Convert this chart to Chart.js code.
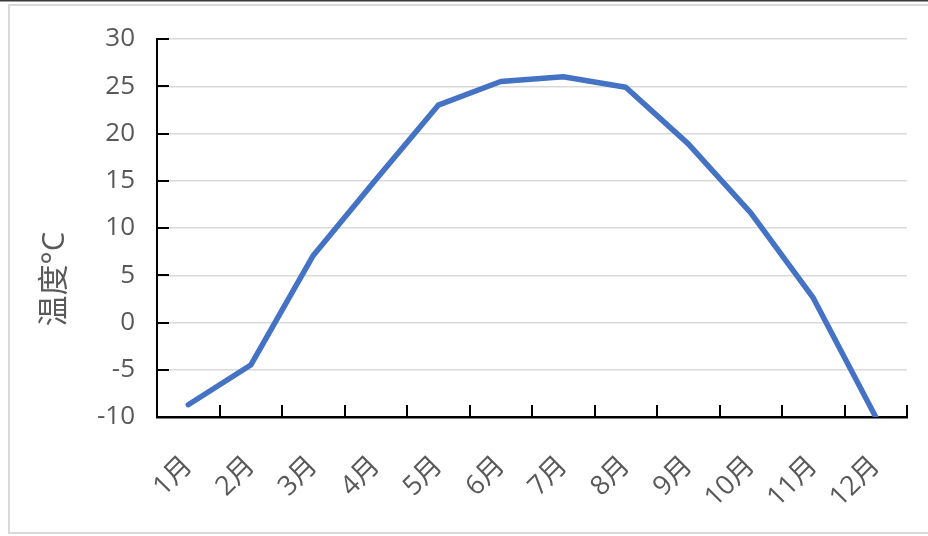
<!DOCTYPE html>
<html>
<head>
<meta charset="utf-8">
<script src="https://cdn.jsdelivr.net/npm/chart.js@4/dist/chart.umd.min.js"></script>
<style>
  html, body { margin: 0; padding: 0; background: #ffffff; }
  #wrap { width: 928px; height: 536px; position: relative; }
</style>
</head>
<body>
<div id="wrap"><canvas id="c" width="928" height="536"></canvas></div>
<script>
// Monthly mean temperature
const months = ['1月', '2月', '3月', '4月', '5月', '6月', '7月', '8月', '9月', '10月', '11月', '12月'];
const temps = [-8.7, -4.5, 7.1, 15.1, 23.0, 25.5, 26.0, 24.9, 18.9, 11.6, 2.6, -10.0];
const yTicks = [-10, -5, 0, 5, 10, 15, 20, 25, 30];
const yTitle = '温度°C';

const FONT = '"Open Sans", "Noto Sans CJK SC", sans-serif';
const TEXT = '#595959';

// Outer frame, inward tick marks and the rotated axis title
const decor = {
  id: 'decor',
  beforeDraw(chart) {
    const ctx = chart.ctx;
    ctx.save();
    ctx.fillStyle = '#ffffff';
    ctx.fillRect(0, 0, chart.width, chart.height);
    ctx.fillStyle = '#3a3a3a';
    ctx.fillRect(0, 0, chart.width, 1.5);
    ctx.strokeStyle = '#d9d9d9';
    ctx.lineWidth = 2;
    ctx.strokeRect(9, 5, chart.width + 20, 528);
    ctx.restore();
  },
  afterDraw(chart) {
    const ctx = chart.ctx;
    const x = chart.scales.x, y = chart.scales.y;
    const area = chart.chartArea;
    ctx.save();
    ctx.strokeStyle = '#000000';
    ctx.lineWidth = 2;
    // y ticks pointing into the plot
    yTicks.forEach(v => {
      const py = Math.round(y.getPixelForValue(v));
      ctx.beginPath();
      ctx.moveTo(area.left, py);
      ctx.lineTo(area.left + 12, py);
      ctx.stroke();
    });
    // x ticks at category boundaries, pointing up
    const step = x.getPixelForValue(1) - x.getPixelForValue(0);
    for (let i = 0; i <= months.length; i++) {
      const px = x.getPixelForValue(0) - step / 2 + i * step;
      ctx.beginPath();
      ctx.moveTo(Math.round(px), area.bottom);
      ctx.lineTo(Math.round(px), area.bottom - 12);
      ctx.stroke();
    }
    // axis title
    ctx.fillStyle = TEXT;
    ctx.font = '31px ' + FONT;
    ctx.textAlign = 'center';
    ctx.textBaseline = 'middle';
    ctx.translate(55, 279);
    ctx.rotate(-Math.PI / 2);
    ctx.fillText(yTitle, 0, 0);
    ctx.restore();
  }
};

new Chart(document.getElementById('c'), {
  type: 'line',
  data: {
    labels: months,
    datasets: [{
      data: temps,
      borderColor: '#4472C4',
      borderWidth: 5.5,
      borderCapStyle: 'round',
      borderJoinStyle: 'round',
      pointRadius: 0,
      tension: 0,
      fill: false
    }]
  },
  options: {
    responsive: false,
    animation: false,
    devicePixelRatio: 1,
    layout: { padding: { top: 39, right: 21, left: 0, bottom: 0 } },
    plugins: { legend: { display: false }, tooltip: { enabled: false } },
    scales: {
      x: {
        type: 'category',
        offset: true,
        grid: { display: false, drawTicks: false },
        border: { display: true, color: '#000000', width: 2.5 },
        ticks: {
          color: TEXT,
          font: { family: FONT, size: 27 },
          maxRotation: 45,
          minRotation: 45,
          padding: 33
        },
        afterFit(scale) {
          scale.height = 119;
          scale.paddingLeft = 0;
          scale.paddingRight = 0;
        }
      },
      y: {
        min: -10,
        max: 30,
        afterBuildTicks(scale) { scale.ticks = yTicks.map(v => ({ value: v })); },
        grid: { color: '#d9d9d9', lineWidth: 1.5, drawTicks: false },
        border: { display: true, color: '#000000', width: 2 },
        ticks: {
          color: TEXT,
          font: { family: FONT, size: 26 },
          padding: 22
        },
        afterFit(scale) {
          scale.width = 157;
          scale.paddingTop = 0;
          scale.paddingBottom = 0;
        }
      }
    }
  },
  plugins: [decor]
});
</script>
</body>
</html>
